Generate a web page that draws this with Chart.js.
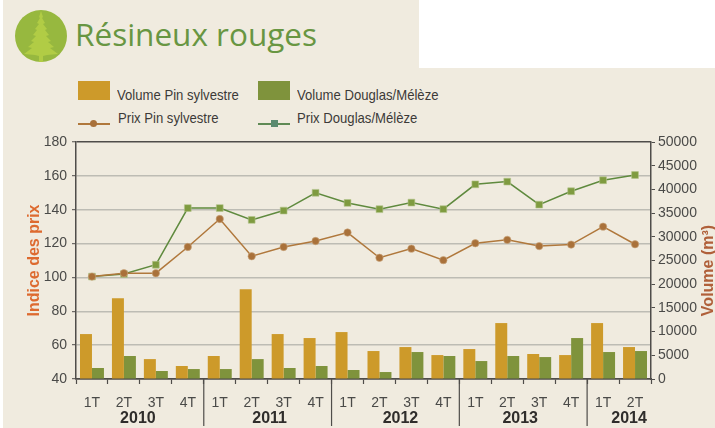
<!DOCTYPE html>
<html lang="fr">
<head>
<meta charset="utf-8">
<title>Résineux rouges</title>
<script src="https://cdn.jsdelivr.net/npm/chart.js@4"></script>
<style>
    html, body { margin: 0; padding: 0; background: #fff; }
    #page { position: absolute; left: 3px; top: 0; width: 712px; height: 428px; background: #f0ebdf; overflow: hidden; }
    #notch { position: absolute; left: 419px; top: 0; width: 296px; height: 68px; background: #fff; }
    #chartBox { position: absolute; left: 0; top: 0; width: 715px; height: 428px; }
    #logo { position: absolute; left: 15px; top: 10px; }
    #heading { position: absolute; left: 75px; top: 12px; font: 31.5px "Open Sans", sans-serif; color: #689642; white-space: nowrap; }
    .key { position: absolute; font: 15px "Liberation Sans", sans-serif; color: #3c3a38; white-space: nowrap; line-height: 18px; transform: scaleX(.875); transform-origin: left center; }
    .swatch { position: absolute; width: 32px; height: 19px; top: 81px; }
    .keyline { position: absolute; width: 32px; height: 1.5px; top: 123px; }
    .dot { position: absolute; width: 7px; height: 7px; top: 120px; }
</style>
</head>
<body>
<div id="page"></div>
<div id="notch"></div>
<svg id="logo" width="52" height="52" viewBox="0 0 52 52">
    <circle cx="26" cy="26" r="26" fill="#97b83f"/>
    <polygon fill="#b1cc45" points="26,1 28,7 27,8 30,13 28,14 32,19 30,20 34,25 31,26 36,31 33,32 39,37 35,38 43,44 32,45 28,46 28,52 24,52 24,46 20,45 9,44 17,38 13,37 19,32 16,31 21,26 18,25 22,20 20,19 24,14 22,13 25,8 24,7"/>
</svg>
<div id="heading">Résineux rouges</div>
<div class="swatch" style="left:78px;background:#cd9a2a"></div>
<div class="key" style="left:117px;top:86px">Volume Pin sylvestre</div>
<div class="swatch" style="left:258px;background:#7f933c"></div>
<div class="key" style="left:297px;top:86px">Volume Douglas/Mélèze</div>
<div class="keyline" style="left:78px;background:#b0783c"></div>
<div class="dot" style="left:90px;border-radius:50%;background:#a9713a"></div>
<div class="key" style="left:118px;top:109px">Prix Pin sylvestre</div>
<div class="keyline" style="left:258px;background:#5f8a55"></div>
<div class="dot" style="left:271px;background:#5a8a70"></div>
<div class="key" style="left:297px;top:109px">Prix Douglas/Mélèze</div>
<div id="chartBox"><canvas id="chart" width="715" height="428"></canvas></div>

<script>
const quarters = ['1T', '2T', '3T', '4T', '1T', '2T', '3T', '4T', '1T', '2T', '3T', '4T', '1T', '2T', '3T', '4T', '1T', '2T'];
const years = ['2010', '2011', '2012', '2013', '2014'];
const quartersPerYear = [4, 4, 4, 4, 2];

const volumePin = [9480, 17060, 4200, 2740, 4850, 18960, 9480, 8640, 9900, 5900, 6740, 5050, 6320, 11800, 5270, 5050, 11800, 6740];
const volumeDouglas = [2320, 4850, 1690, 2100, 2100, 4200, 2320, 2740, 1900, 1470, 5690, 4850, 3790, 4850, 4630, 8640, 5690, 5900];
const prixPin = [100.5, 102.5, 102.5, 118, 134.5, 112.5, 118, 121.5, 126.5, 111.6, 117, 110.2, 120.2, 122.2, 118.5, 119.4, 130, 119.6];
const prixDouglas = [100.5, 102, 107.5, 141, 141, 134, 139.5, 150, 144, 140.3, 144.2, 140.3, 155, 156.6, 143, 150.9, 157.4, 160.5];

const axisFont = { family: '"Liberation Sans", sans-serif', size: 14 };
const textColor = '#4a4a48';
const darkLine = '#4f4d4a';
// the year labels are not quite centred under their quarters in the original
const yearNudge = [-2, 2, 5, -3, 10];

// year labels, long separators under the x axis, and the right title that reads upwards
const yearRow = {
    id: 'yearRow',
    afterDraw(chart) {
        const ctx = chart.ctx;
        const x = chart.scales.x;
        const y = chart.scales.y;
        const step = x.getPixelForValue(1) - x.getPixelForValue(0);
        ctx.save();
        let first = 0;
        years.forEach((year, i) => {
            const count = quartersPerYear[i];
            const left = x.getPixelForValue(first) - step / 2;
            const right = x.getPixelForValue(first + count - 1) + step / 2;
            ctx.fillStyle = '#2f2d2b';
            ctx.font = 'bold 16px "Liberation Sans", sans-serif';
            ctx.textAlign = 'center';
            ctx.textBaseline = 'middle';
            ctx.fillText(year, (left + right) / 2 + yearNudge[i], y.bottom + 40);
            if (i < years.length - 1) {
                ctx.strokeStyle = darkLine;
                ctx.lineWidth = 1.2;
                ctx.beginPath();
                ctx.moveTo(right, y.bottom);
                ctx.lineTo(right, y.bottom + 47);
                ctx.stroke();
            }
            first += count;
        });
        ctx.translate(709, (y.top + y.bottom) / 2 + 10);
        ctx.rotate(-Math.PI / 2);
        ctx.fillStyle = '#b0603a';
        ctx.font = 'bold 16px "Liberation Sans", sans-serif';
        ctx.textAlign = 'center';
        ctx.textBaseline = 'middle';
        ctx.fillText('Volume (m³)', 0, 0);
        ctx.restore();
    },
};

new Chart(document.getElementById('chart').getContext('2d'), {
    type: 'bar',
    plugins: [yearRow],
    data: {
        labels: quarters,
        datasets: [
            {
                type: 'line',
                label: 'Prix Pin sylvestre',
                data: prixPin,
                yAxisID: 'y',
                order: 0,
                borderColor: '#b0783c',
                borderWidth: 1.5,
                backgroundColor: '#a9713a',
                pointStyle: 'circle',
                pointRadius: 3.7,
                pointBorderColor: '#c9a67e',
                pointBorderWidth: 0.6,
                tension: 0,
            },
            {
                type: 'line',
                label: 'Prix Douglas/Mélèze',
                data: prixDouglas,
                yAxisID: 'y',
                order: 1,
                borderColor: '#5f8a3e',
                borderWidth: 1.5,
                backgroundColor: '#7f9b40',
                pointStyle: 'rect',
                pointRadius: 4.8,
                pointBorderColor: '#b3c48c',
                pointBorderWidth: 0.6,
                tension: 0,
            },
            {
                label: 'Volume Pin sylvestre',
                data: volumePin,
                yAxisID: 'y1',
                order: 2,
                backgroundColor: '#cd9a2a',
                categoryPercentage: 0.75,
                barPercentage: 1,
            },
            {
                label: 'Volume Douglas/Mélèze',
                data: volumeDouglas,
                yAxisID: 'y1',
                order: 2,
                backgroundColor: '#7f933c',
                categoryPercentage: 0.75,
                barPercentage: 1,
            },
        ],
    },
    options: {
        responsive: false,
        animation: false,
        layout: { padding: { top: 142, left: 0, right: 0, bottom: 0 } },
        plugins: { legend: { display: false }, tooltip: { enabled: false } },
        scales: {
            x: {
                afterFit(scale) { scale.height = 49; },
                border: { color: darkLine, width: 1.5 },
                grid: { drawOnChartArea: false, tickLength: 5, tickColor: darkLine, tickWidth: 1.2 },
                ticks: { color: textColor, font: axisFont, padding: 11, maxRotation: 0, autoSkip: false },
            },
            y: {
                position: 'left',
                min: 40,
                max: 180,
                afterFit(scale) { scale.width = 76; },
                border: { color: darkLine, width: 1.5 },
                grid: {
                    color: (c) => (c.tick.value === 180 || c.tick.value === 40 ? darkLine : '#bdbcb4'),
                    lineWidth: (c) => (c.tick.value === 180 ? 1.5 : 1.4),
                    tickColor: darkLine,
                    tickLength: 4,
                    tickWidth: 1,
                },
                ticks: { stepSize: 20, color: textColor, font: axisFont, padding: 5 },
                title: {
                    display: true,
                    text: 'Indice des prix',
                    color: '#dd6a2f',
                    font: { family: '"Liberation Sans", sans-serif', size: 16, weight: 'bold' },
                    padding: { top: 25, bottom: 0 },
                },
            },
            y1: {
                position: 'right',
                min: 0,
                max: 50000,
                afterFit(scale) { scale.width = 64; },
                border: { color: darkLine, width: 1.5 },
                grid: { drawOnChartArea: false, tickColor: darkLine, tickLength: 4, tickWidth: 1 },
                ticks: { stepSize: 5000, color: textColor, font: axisFont, padding: 3, callback: (v) => String(v) },
            },
        },
    },
});
</script>
</body>
</html>
